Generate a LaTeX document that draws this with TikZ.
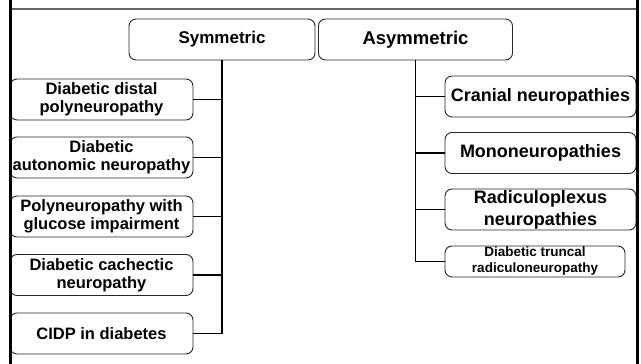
\documentclass[tikz,border=0pt]{standalone}
\usepackage{fontspec}
\setmainfont{Liberation Sans}
\begin{document}
\begin{tikzpicture}[x=1pt,y=-1pt,
  box/.style={draw=black!85, line width=0.9pt, rounded corners=7pt, fill=white,
    inner sep=0pt, align=center, font=\bfseries},
  lbox/.style={box, minimum width=183pt, minimum height=41pt, font=\bfseries\fontsize{16.5}{18}\selectfont},
  rbox/.style={box, minimum width=191pt, minimum height=41pt, font=\bfseries\fontsize{18}{22}\selectfont},
  conn/.style={draw=black, line width=1.6pt}]
\useasboundingbox (0,0) rectangle (641,364);
% top nodes
\node[box, minimum width=186pt, minimum height=41pt, font=\bfseries\fontsize{17}{20}\selectfont] (sym) at (222,39.5) {Symmetric};
\node[box, minimum width=194pt, minimum height=41pt, font=\bfseries\fontsize{18.5}{21}\selectfont] (asym) at (415.5,39.5) {Asymmetric};
% left children
\node[lbox] (l1) at (101.5,99.5) {Diabetic distal\\polyneuropathy};
\node[lbox] (l2) at (101.5,157.5) {Diabetic\\autonomic neuropathy};
\node[lbox] (l3) at (101.5,216.5) {Polyneuropathy with\\glucose impairment};
\node[lbox] (l4) at (101.5,275) {Diabetic cachectic\\neuropathy};
\node[lbox] (l5) at (101.5,333.5) {CIDP in diabetes};
% right children
\node[rbox] (r1) at (540.5,96.5) {Cranial neuropathies};
\node[rbox] (r2) at (540.5,153) {Mononeuropathies};
\node[rbox] (r3) at (540.5,209.5) {Radiculoplexus\\neuropathies};
\node[box, minimum width=180pt, minimum height=31pt, font=\bfseries\fontsize{13.5}{16}\selectfont] (r4) at (535,261.5) {Diabetic truncal\\radiculoneuropathy};
% connectors
\draw[conn] (sym.south) |- (l5.east);
\foreach \n in {l1,l2,l3,l4} \draw[conn] (sym.south |- \n.east) -- (\n.east);
\draw[conn] (asym.south) |- (r4.west);
\foreach \n in {r1,r2,r3} \draw[conn] (asym.south |- \n.west) -- (\n.west);
% frame
\coordinate (tl) at (10,0); \coordinate (bl) at (10,364);
\coordinate (tr) at (637.5,0); \coordinate (br) at (637.5,364);
\coordinate (hl) at (10,9); \coordinate (hr) at (637.5,9);
\draw[black!60, line width=1.5pt] (hl) -- (hr);
\draw[black, line width=3pt] (tl) -- (bl);
\draw[black, line width=3pt] (tr) -- (br);
\end{tikzpicture}
\end{document}
